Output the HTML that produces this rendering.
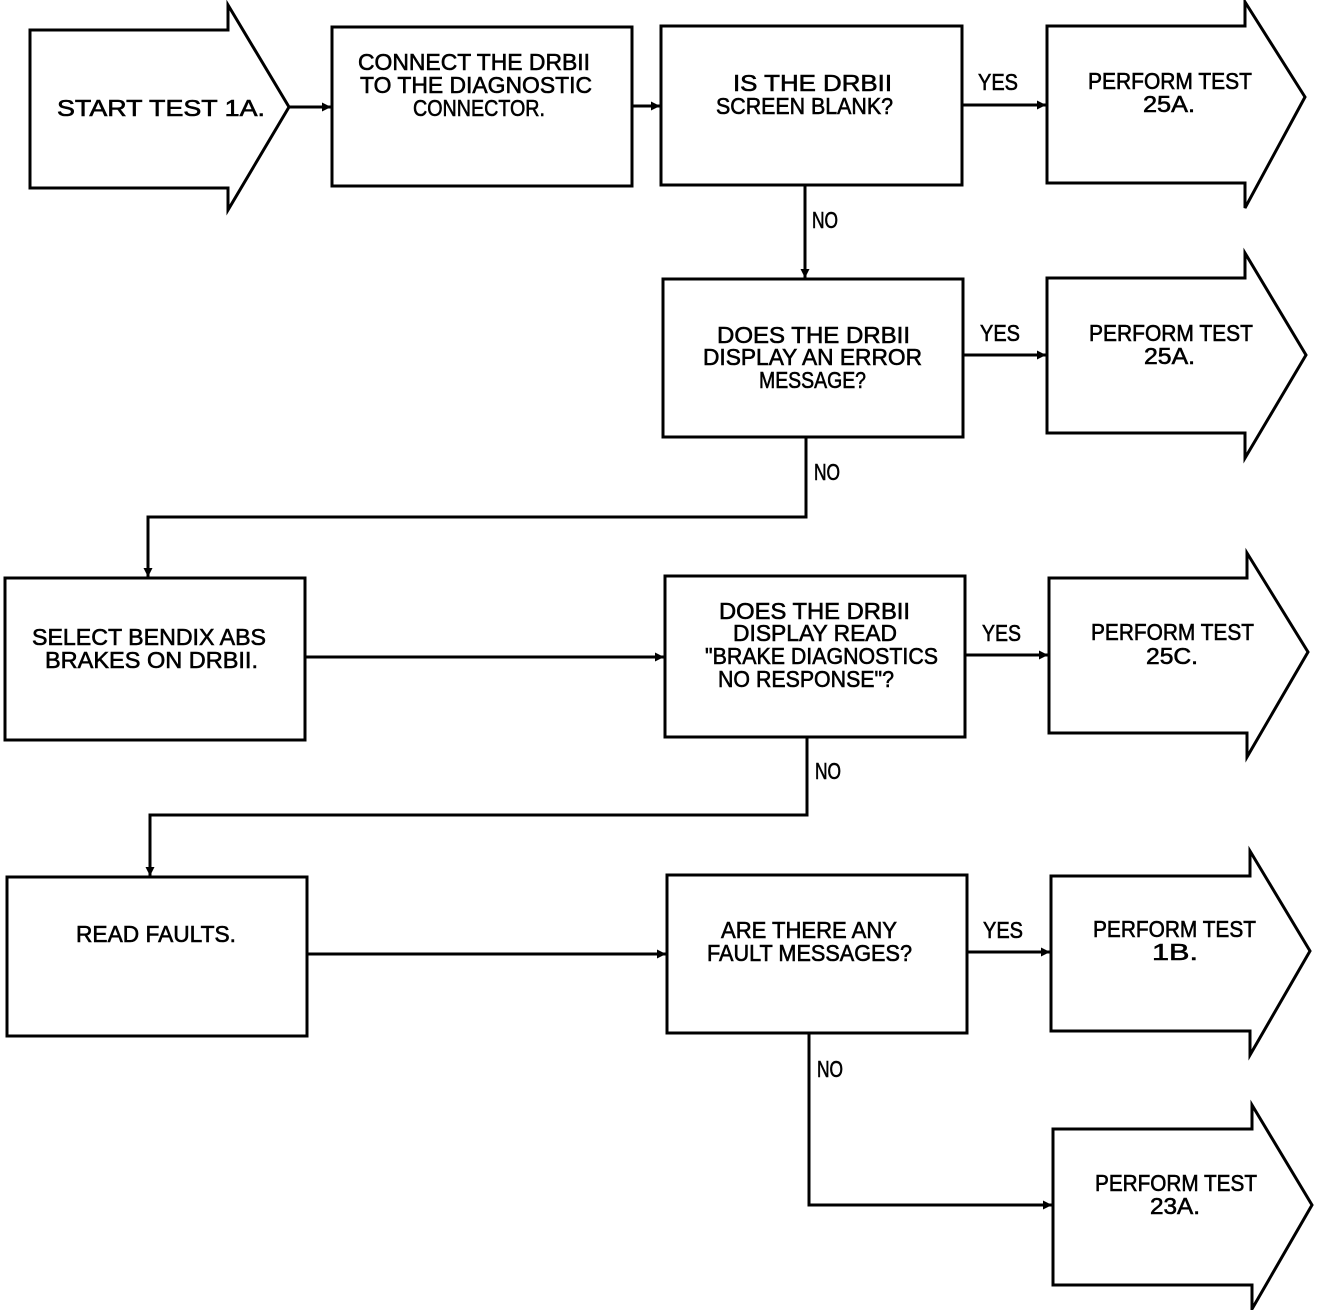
<!DOCTYPE html>
<html><head><meta charset="utf-8"><style>
html,body{margin:0;padding:0;background:#fff;}
svg{display:block;}
text{font-family:"Liberation Sans",sans-serif;font-size:23px;fill:#000;stroke:#000;stroke-width:0.6;}
</style></head><body>
<svg width="1328" height="1310" viewBox="0 0 1328 1310" xmlns="http://www.w3.org/2000/svg">
<defs>
<marker id="ah" viewBox="0 0 10 10" refX="10" refY="5" markerWidth="3" markerHeight="3" orient="auto" markerUnits="strokeWidth">
<path d="M0,0 L10,5 L0,10 z" fill="#000" stroke="none"/>
</marker>
</defs>
<g fill="none" stroke="#000" stroke-width="3" stroke-linejoin="miter">
<polygon points="30,30 228,30 228,5 289,107 228,210 228,188 30,188"/>
<rect x="332" y="27" width="300" height="159"/>
<rect x="661" y="26" width="301" height="159"/>
<polygon points="1047,26 1245,26 1245,2 1305,97 1245,208 1245,183 1047,183"/>
<rect x="663" y="279" width="300" height="158"/>
<polygon points="1047,278 1245,278 1245,253 1306,355 1245,458 1245,433 1047,433"/>
<rect x="5" y="578" width="300" height="162"/>
<rect x="665" y="576" width="300" height="161"/>
<polygon points="1049,578 1247,578 1247,553 1308,652 1247,757 1247,733 1049,733"/>
<rect x="7" y="877" width="300" height="159"/>
<rect x="667" y="875" width="300" height="158"/>
<polygon points="1051,876 1250,876 1250,851 1310,951 1250,1055 1250,1031 1051,1031"/>
<polygon points="1053,1129 1252,1129 1252,1105 1312,1205 1252,1309 1252,1285 1053,1285"/>
</g>
<g fill="none" stroke="#000" stroke-width="3" marker-end="url(#ah)">
<line x1="289" y1="107" x2="331" y2="107"/>
<line x1="632" y1="106" x2="660" y2="106"/>
<line x1="962" y1="105" x2="1046" y2="105"/>
<line x1="805" y1="185" x2="805" y2="278"/>
<line x1="963" y1="355" x2="1046" y2="355"/>
<polyline points="806,437 806,517 148,517 148,577"/>
<line x1="305" y1="657" x2="664" y2="657"/>
<line x1="965" y1="655" x2="1048" y2="655"/>
<polyline points="807,737 807,815 150,815 150,876"/>
<line x1="307" y1="954" x2="666" y2="954"/>
<line x1="967" y1="952" x2="1050" y2="952"/>
<polyline points="809,1033 809,1205 1052,1205"/>
</g>
<g>
<text x="57" y="116" textLength="208" lengthAdjust="spacingAndGlyphs">START TEST 1A.</text>
<text x="358" y="70" textLength="232" lengthAdjust="spacingAndGlyphs">CONNECT THE DRBII</text>
<text x="360" y="93" textLength="232" lengthAdjust="spacingAndGlyphs">TO THE DIAGNOSTIC</text>
<text x="413" y="116" textLength="132" lengthAdjust="spacingAndGlyphs">CONNECTOR.</text>
<text x="733" y="91" textLength="159" lengthAdjust="spacingAndGlyphs">IS THE DRBII</text>
<text x="716" y="114" textLength="177" lengthAdjust="spacingAndGlyphs">SCREEN BLANK?</text>
<text x="978" y="90" textLength="40" lengthAdjust="spacingAndGlyphs">YES</text>
<text x="1088" y="89" textLength="164" lengthAdjust="spacingAndGlyphs">PERFORM TEST</text>
<text x="1143" y="112" textLength="52" lengthAdjust="spacingAndGlyphs">25A.</text>
<text x="812" y="228" textLength="26" lengthAdjust="spacingAndGlyphs">NO</text>
<text x="717" y="343" textLength="193" lengthAdjust="spacingAndGlyphs">DOES THE DRBII</text>
<text x="703" y="365" textLength="219" lengthAdjust="spacingAndGlyphs">DISPLAY AN ERROR</text>
<text x="759" y="388" textLength="107" lengthAdjust="spacingAndGlyphs">MESSAGE?</text>
<text x="980" y="341" textLength="40" lengthAdjust="spacingAndGlyphs">YES</text>
<text x="1089" y="341" textLength="164" lengthAdjust="spacingAndGlyphs">PERFORM TEST</text>
<text x="1144" y="364" textLength="51" lengthAdjust="spacingAndGlyphs">25A.</text>
<text x="814" y="480" textLength="26" lengthAdjust="spacingAndGlyphs">NO</text>
<text x="32" y="645" textLength="234" lengthAdjust="spacingAndGlyphs">SELECT BENDIX ABS</text>
<text x="45" y="668" textLength="213" lengthAdjust="spacingAndGlyphs">BRAKES ON DRBII.</text>
<text x="719" y="619" textLength="191" lengthAdjust="spacingAndGlyphs">DOES THE DRBII</text>
<text x="733" y="641" textLength="164" lengthAdjust="spacingAndGlyphs">DISPLAY READ</text>
<text x="705" y="664" textLength="233" lengthAdjust="spacingAndGlyphs">"BRAKE DIAGNOSTICS</text>
<text x="718" y="687" textLength="176" lengthAdjust="spacingAndGlyphs">NO RESPONSE"?</text>
<text x="982" y="641" textLength="39" lengthAdjust="spacingAndGlyphs">YES</text>
<text x="1091" y="640" textLength="163" lengthAdjust="spacingAndGlyphs">PERFORM TEST</text>
<text x="1146" y="664" textLength="52" lengthAdjust="spacingAndGlyphs">25C.</text>
<text x="815" y="779" textLength="26" lengthAdjust="spacingAndGlyphs">NO</text>
<text x="76" y="942" textLength="160" lengthAdjust="spacingAndGlyphs">READ FAULTS.</text>
<text x="721" y="938" textLength="176" lengthAdjust="spacingAndGlyphs">ARE THERE ANY</text>
<text x="707" y="961" textLength="205" lengthAdjust="spacingAndGlyphs">FAULT MESSAGES?</text>
<text x="983" y="938" textLength="40" lengthAdjust="spacingAndGlyphs">YES</text>
<text x="1093" y="937" textLength="163" lengthAdjust="spacingAndGlyphs">PERFORM TEST</text>
<text x="1152" y="960" textLength="46" lengthAdjust="spacingAndGlyphs">1B.</text>
<text x="817" y="1077" textLength="26" lengthAdjust="spacingAndGlyphs">NO</text>
<text x="1095" y="1191" textLength="162" lengthAdjust="spacingAndGlyphs">PERFORM TEST</text>
<text x="1150" y="1214" textLength="50" lengthAdjust="spacingAndGlyphs">23A.</text>
</g>
</svg>
</body></html>
